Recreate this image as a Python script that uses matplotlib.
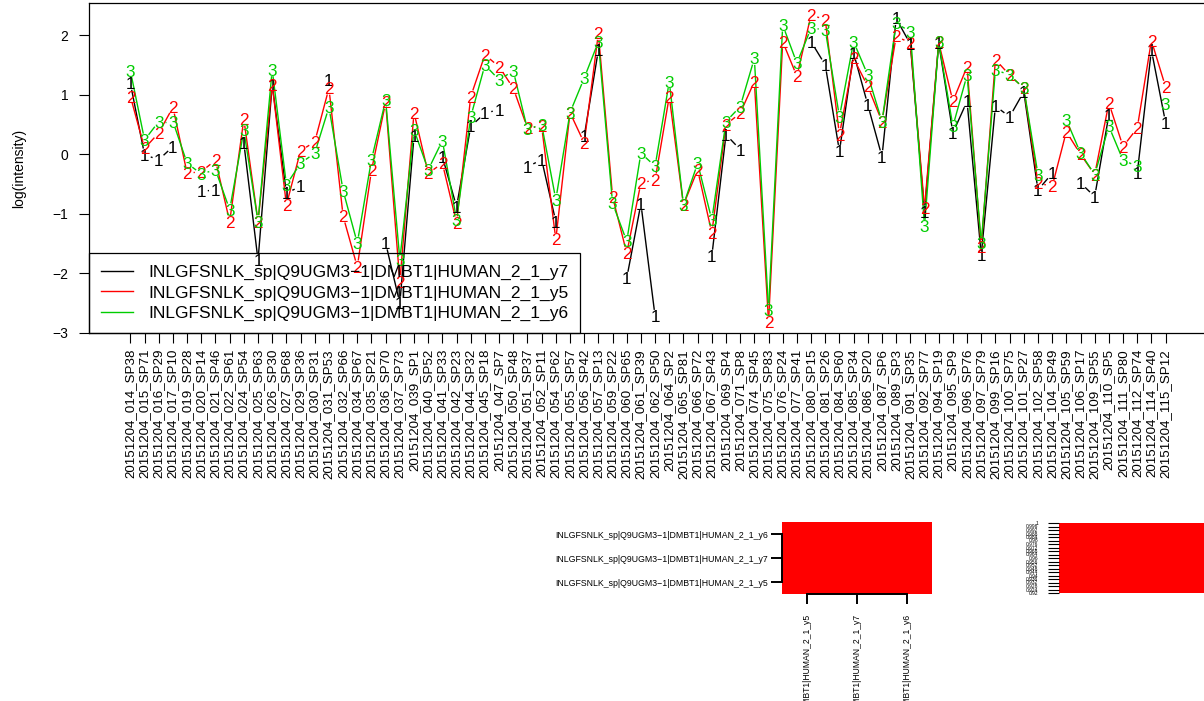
import numpy as np
import matplotlib
matplotlib.use("Agg")
import matplotlib.pyplot as plt
from matplotlib.colors import ListedColormap
from matplotlib.lines import Line2D

plt.rcParams['font.family'] = ['Liberation Sans', 'DejaVu Sans']

# sample names (x axis)
samples = [
    "20151204_014_SP38", "20151204_015_SP71", "20151204_016_SP29", "20151204_017_SP10",
    "20151204_019_SP28", "20151204_020_SP14", "20151204_021_SP46", "20151204_022_SP61",
    "20151204_024_SP54", "20151204_025_SP63", "20151204_026_SP30", "20151204_027_SP68",
    "20151204_029_SP36", "20151204_030_SP31", "20151204_031_SP53", "20151204_032_SP66",
    "20151204_034_SP67", "20151204_035_SP21", "20151204_036_SP70", "20151204_037_SP73",
    "20151204_039_SP1", "20151204_040_SP52", "20151204_041_SP33", "20151204_042_SP23",
    "20151204_044_SP32", "20151204_045_SP18", "20151204_047_SP7", "20151204_050_SP48",
    "20151204_051_SP37", "20151204_052_SP11", "20151204_054_SP62", "20151204_055_SP57",
    "20151204_056_SP42", "20151204_057_SP13", "20151204_059_SP22", "20151204_060_SP65",
    "20151204_061_SP39", "20151204_062_SP50", "20151204_064_SP2", "20151204_065_SP81",
    "20151204_066_SP72", "20151204_067_SP43", "20151204_069_SP4", "20151204_071_SP8",
    "20151204_074_SP45", "20151204_075_SP83", "20151204_076_SP24", "20151204_077_SP41",
    "20151204_080_SP15", "20151204_081_SP26", "20151204_084_SP60", "20151204_085_SP34",
    "20151204_086_SP20", "20151204_087_SP6", "20151204_089_SP3", "20151204_091_SP35",
    "20151204_092_SP77", "20151204_094_SP19", "20151204_095_SP9", "20151204_096_SP76",
    "20151204_097_SP79", "20151204_099_SP16", "20151204_100_SP75", "20151204_101_SP27",
    "20151204_102_SP58", "20151204_104_SP49", "20151204_105_SP59", "20151204_106_SP17",
    "20151204_109_SP55", "20151204_110_SP5", "20151204_111_SP80", "20151204_112_SP74",
    "20151204_114_SP40", "20151204_115_SP12",
]

nan = np.nan
y7 = [1.19, -0.01, -0.09, 0.13, nan, -0.62, -0.60, nan, 0.19, -1.78,
      1.17, -0.65, -0.54, nan, 1.25, nan, nan, nan, -1.49, -2.50,
      0.30, nan, -0.04, -0.88, 0.47, 0.69, 0.75, nan, -0.21, -0.09,
      -1.13, nan, 0.30, 1.75, nan, -2.08, -0.83, -2.72, nan, nan,
      nan, -1.71, 0.33, 0.08, nan, nan, nan, nan, 1.89, 1.50,
      0.05, 1.70, 0.83, -0.04, 2.28, 1.85, -0.97, 1.87, 0.36, 0.89,
      -1.69, 0.81, 0.63, 1.05, -0.60, -0.32, nan, -0.48, -0.71, 0.66,
      nan, -0.32, 1.75, 0.53]
y5 = [0.97, 0.10, 0.36, 0.79, -0.32, -0.29, -0.10, -1.13, 0.59, -1.13,
      1.17, -0.85, 0.06, 0.21, 1.11, -1.04, -1.89, -0.27, 0.87, -2.14,
      0.70, -0.32, -0.15, -1.15, 0.97, 1.67, 1.47, 1.11, 0.44, 0.47,
      -1.43, 0.70, 0.19, 2.03, -0.71, -1.66, -0.48, -0.43, 0.97, -0.85,
      -0.26, -1.32, 0.50, 0.69, 1.22, -2.81, 1.89, 1.31, 2.34, 2.26,
      0.33, 1.61, 1.14, 0.55, 1.98, 1.87, -0.90, 1.88, 0.89, 1.47,
      -1.55, 1.59, 1.33, 1.11, -0.48, -0.54, 0.38, 0.00, -0.34, 0.86,
      0.13, 0.44, 1.91, 1.13]
y6 = [1.40, 0.24, 0.55, 0.55, -0.15, -0.33, -0.26, -0.93, 0.40, -1.13,
      1.42, -0.51, -0.15, 0.02, 0.79, -0.61, -1.49, -0.09, 0.91, -1.77,
      0.41, -0.26, 0.23, -1.10, 0.63, 1.50, 1.25, 1.40, 0.42, 0.50,
      -0.76, 0.70, 1.28, 1.89, -0.82, -1.46, 0.02, -0.20, 1.22, -0.85,
      -0.15, -1.10, 0.55, 0.80, 1.61, -2.61, 2.17, 1.53, 2.12, 2.09,
      0.63, 1.89, 1.33, 0.55, 2.20, 2.06, -1.21, 1.88, 0.47, 1.33,
      -1.49, 1.42, 1.33, 1.11, -0.34, nan, 0.58, 0.02, -0.34, 0.47,
      -0.10, -0.20, nan, 0.85]

series_names = ["INLGFSNLK_sp|Q9UGM3\u22121|DMBT1|HUMAN_2_1_y7",
                "INLGFSNLK_sp|Q9UGM3\u22121|DMBT1|HUMAN_2_1_y5",
                "INLGFSNLK_sp|Q9UGM3\u22121|DMBT1|HUMAN_2_1_y6"]
series_vals = [y7, y5, y6]
series_cols = ["#000000", "#FF0000", "#00CD00"]
series_chars = ["1", "2", "3"]

# heatmap (correlation of the three series)
heat_rows = ["INLGFSNLK_sp|Q9UGM3\u22121|DMBT1|HUMAN_2_1_y5",
             "INLGFSNLK_sp|Q9UGM3\u22121|DMBT1|HUMAN_2_1_y7",
             "INLGFSNLK_sp|Q9UGM3\u22121|DMBT1|HUMAN_2_1_y6"]
heat_cols = heat_rows
heat_vals = [[1, 1, 1], [1, 1, 1], [1, 1, 1]]
key_ticks = [0.92, 0.924, 0.928, 0.932, 0.936, 0.94, 0.944, 0.948, 0.952, 0.956,
             0.96, 0.964, 0.968, 0.972, 0.976, 0.98, 0.984, 0.988, 0.992, 0.996, 1.0]
key_labels = ["0.92", "0.924", "0.928", "0.932", "0.936", "0.94", "0.944", "0.948",
              "0.952", "0.956", "0.96", "0.964", "0.968", "0.972", "0.976", "0.98",
              "0.984", "0.988", "0.992", "0.996", "1"]

W, H = 1204, 701
fig = plt.figure(figsize=(W / 100, H / 100), dpi=100)

def px_axes(x0, y0, x1, y1):
    # pixel box (top-left origin) -> figure fraction
    return fig.add_axes([x0 / W, 1 - y1 / H, (x1 - x0) / W, (y1 - y0) / H])

# ---------- main matplot ----------
ax = px_axes(89, 3, 1207, 333)
n = len(samples)
xs = np.arange(1, n + 1)
ax.set_xlim(1 - 0.04 * (n - 1), n + 0.04 * (n - 1))
ax.set_ylim(-3.0, 2.54)

def plot_b(ax, x, y, color, ch, gap=6.5):
    # R type="b": points as characters, lines with gaps around them
    y = np.asarray(y, dtype=float)
    pts = ax.transData.transform(np.column_stack([x, np.nan_to_num(y)]))
    inv = ax.transData.inverted()
    for k in range(len(x) - 1):
        if np.isnan(y[k]) or np.isnan(y[k + 1]):
            continue
        d = pts[k + 1] - pts[k]
        L = np.hypot(d[0], d[1])
        if L <= 2 * gap:
            continue
        u = d / L
        a = inv.transform(pts[k] + u * gap)
        b = inv.transform(pts[k + 1] - u * gap)
        ax.plot([a[0], b[0]], [a[1], b[1]], color=color, lw=1.0, solid_capstyle='butt')
    for xi, yi in zip(x, y):
        if not np.isnan(yi):
            ax.text(xi, yi, ch, color=color, fontsize=12.3, ha='center', va='center_baseline')

for vals, col, ch in zip(series_vals, series_cols, series_chars):
    plot_b(ax, xs, vals, col, ch)

ax.set_xticks(xs)
ax.set_xticklabels(samples, rotation=90, fontsize=9.6, va='top')
ax.set_yticks([-3, -2, -1, 0, 1, 2])
ax.tick_params(axis='both', direction='out', length=7, width=0.8, labelsize=10)
ax.tick_params(axis='x', pad=4.5, labelsize=9.6)
ax.tick_params(axis='y', pad=8)
ax.set_ylabel("log(intensity)", fontsize=10)
ax.yaxis.set_label_coords(-0.056, 0.5)
for s in ax.spines.values():
    s.set_linewidth(0.9)

handles = [Line2D([0], [0], color=c, lw=1.0) for c in series_cols]
leg = ax.legend(handles, series_names, loc='lower left', bbox_to_anchor=(0, 0),
                borderaxespad=0, fontsize=12.5, handlelength=1.85, handletextpad=0.85,
                borderpad=0.7, labelspacing=0.29, fancybox=False, facecolor='none',
                framealpha=1, edgecolor='black')
leg.get_frame().set_linewidth(0.9)

# ---------- heatmap ----------
hx = px_axes(782, 522, 932, 594)
hx.pcolormesh([0.5, 1.5, 2.5, 3.5], [0.5, 1.5, 2.5, 3.5], np.array(heat_vals),
              cmap=ListedColormap(["#FF0000"]), vmin=0.92, vmax=1.0)
hx.set_xlim(0.5, 3.5)
hx.set_ylim(0.5, 3.5)
for k in ['top', 'right']:
    hx.spines[k].set_visible(False)
hx.spines['left'].set_bounds(1, 3)
hx.spines['bottom'].set_bounds(1, 3)
for k in ['left', 'bottom']:
    hx.spines[k].set_linewidth(1.4)
    hx.spines[k].set_zorder(5)
hx.set_yticks([1, 2, 3])
hx.set_yticklabels(heat_rows, fontsize=6.3)
hx.set_xticks([1, 2, 3])
hx.set_xticklabels(heat_cols, fontsize=6.2, rotation=90, va='top')
hx.tick_params(axis='y', direction='out', length=8, width=1.4, pad=2)
hx.tick_params(axis='x', direction='out', length=7.5, width=1.4, pad=6.5)

# ---------- colour key ----------
kx = px_axes(1059, 523, 1225, 593)
kx.pcolormesh([0, 1], key_ticks, np.array([[v] for v in key_ticks[:-1]]),
              cmap=ListedColormap(["#FF0000"]), vmin=0.92, vmax=1.0)
kx.set_xlim(0, 1)
kx.set_ylim(key_ticks[0], key_ticks[-1])
for s in kx.spines.values():
    s.set_visible(False)
kx.set_xticks([])
kx.set_yticks(key_ticks)
kx.set_yticklabels(key_labels, fontsize=3.5)
kx.tick_params(axis='y', direction='out', length=8, width=0.8, pad=7)

fig.savefig("out.png", dpi=100)
